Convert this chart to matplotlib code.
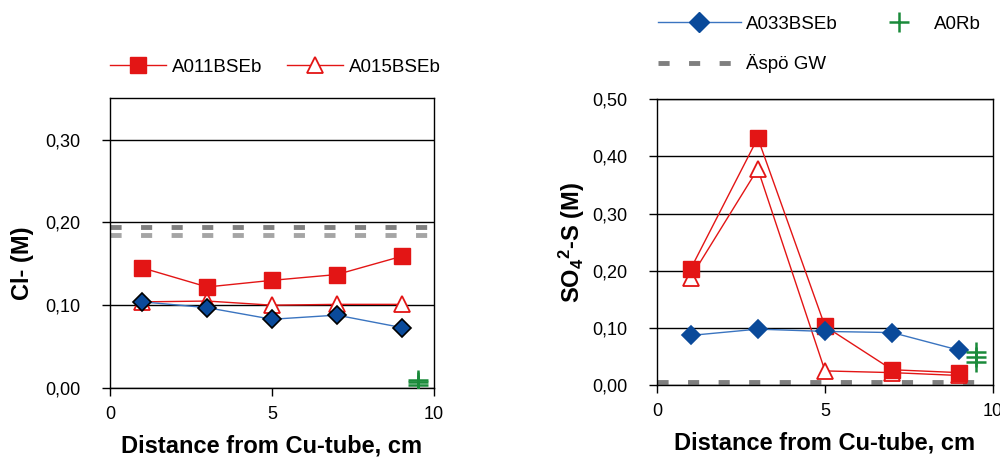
import numpy as np
import matplotlib
matplotlib.use('Agg')
import matplotlib.pyplot as plt
from matplotlib.ticker import FuncFormatter
from matplotlib.lines import Line2D

plt.rcParams['font.family'] = ['Liberation Sans', 'DejaVu Sans']
plt.rcParams['mathtext.fontset'] = 'custom'
plt.rcParams['mathtext.rm'] = 'Liberation Sans:bold'
plt.rcParams['mathtext.it'] = 'Liberation Sans:bold'
plt.rcParams['mathtext.bf'] = 'Liberation Sans:bold'
plt.rcParams['lines.scale_dashes'] = False

dist = [1, 3, 5, 7, 9]
ref_x = [9.5, 9.5, 9.5]

# Cl- (M)
cl_a011 = [0.145, 0.122, 0.130, 0.137, 0.159]
cl_a015 = [0.104, 0.105, 0.100, 0.101, 0.101]
cl_a033 = [0.104, 0.097, 0.083, 0.088, 0.073]
cl_a0rb = [0.004, 0.007, 0.010]
cl_aspo = [0.195, 0.185]

# SO4 2- -S (M)
so_a011 = [0.203, 0.432, 0.103, 0.027, 0.022]
so_a015 = [0.188, 0.378, 0.025, 0.022, 0.017]
so_a033 = [0.087, 0.098, 0.094, 0.092, 0.061]
so_a0rb = [0.040, 0.049, 0.058]
so_aspo = [0.005]

red = '#e31515'
blue = '#0a4a9a'
blue_line = '#3a74c0'
green = '#1a8a3a'
grey1 = '#7f7f7f'
grey2 = '#a5a5a5'

fig = plt.figure(figsize=(10, 4.63), dpi=100)
ax1 = fig.add_axes([0.11, 0.162, 0.324, 0.626])
ax2 = fig.add_axes([0.657, 0.168, 0.336, 0.618])

comma = FuncFormatter(lambda v, p: f'{v:.2f}'.replace('.', ','))


def draw(ax, a011, a015, a033, a0rb, aspo, ylim, yticks, edge):
    for i, val in enumerate(aspo):
        ax.plot([0, 10], [val, val], color=grey1 if i == 0 else grey2,
                lw=3.5, dashes=(8, 14), solid_capstyle='butt',
                dash_capstyle='butt', zorder=2)
    ax.plot(dist, a033, color=blue_line, lw=1, marker='D', ms=9.5,
            mfc=blue, mec=edge, mew=1.2, zorder=4)
    ax.plot(dist, a015, color=red, lw=1, marker='^', ms=11,
            mfc='white', mec=red, mew=1.3, zorder=3)
    ax.plot(dist, a011, color=red, lw=1, marker='s', ms=11,
            mfc=red, mec=red, zorder=3)
    ax.plot(ref_x, a0rb, ls='none', marker='+', ms=14, mew=1.8,
            color=green, zorder=5)
    ax.set_xlim(0, 10)
    ax.set_ylim(*ylim)
    ax.set_xticks([0, 5, 10])
    ax.set_yticks(yticks)
    ax.yaxis.set_major_formatter(comma)
    ax.yaxis.grid(True, color='black', lw=1)
    ax.set_axisbelow(True)
    ax.tick_params(labelsize=13, length=6, width=1, direction='out')
    ax.tick_params(axis='x', pad=7)
    ax.tick_params(axis='y', pad=15)
    for s in ax.spines.values():
        s.set_linewidth(1)
    ax.set_xlabel('Distance from Cu-tube, cm', fontsize=17,
                  fontweight='bold', labelpad=8)


draw(ax1, cl_a011, cl_a015, cl_a033, cl_a0rb, cl_aspo,
     (0, 0.35), [0, 0.1, 0.2, 0.3], 'black')
draw(ax2, so_a011, so_a015, so_a033, so_a0rb, so_aspo,
     (0, 0.5), [0, 0.1, 0.2, 0.3, 0.4, 0.5], blue)

ax1.set_ylabel('Cl- (M)', fontsize=17, fontweight='bold')
ax1.yaxis.set_label_coords(-0.235, 0.43)
ax2.set_ylabel(r'SO$_4$$^2$-S (M)', fontsize=17, fontweight='bold', labelpad=4)

h011 = Line2D([], [], color=red, lw=1, marker='s', ms=11, mfc=red, mec=red)
h015 = Line2D([], [], color=red, lw=1, marker='^', ms=11, mfc='white',
              mec=red, mew=1.3)
h033 = Line2D([], [], color=blue_line, lw=1, marker='D', ms=10, mfc=blue,
              mec=blue)
h0rb = Line2D([], [], ls='none', marker='+', ms=14, mew=1.8, color=green)
haspo = Line2D([], [], color=grey1, lw=3.5, dashes=(8, 14),
               dash_capstyle='butt')

leg_kw = dict(frameon=False, loc='center left', fontsize=13.5,
              borderpad=0, borderaxespad=0)
fig.legend([h011, h015], ['A011BSEb', 'A015BSEb'], ncol=2,
           bbox_to_anchor=(0.110, 0.855), handlelength=3,
           columnspacing=1.3, handletextpad=0.3, **leg_kw)
fig.legend([h033], ['A033BSEb'], bbox_to_anchor=(0.658, 0.948),
           handlelength=4.4, handletextpad=0.3, **leg_kw)
fig.legend([haspo], ['Äspö GW'], bbox_to_anchor=(0.658, 0.862),
           handlelength=4.4, handletextpad=0.3, **leg_kw)
fig.legend([h0rb], ['A0Rb'], bbox_to_anchor=(0.880, 0.948),
           handlelength=2, handletextpad=0.9, **leg_kw)

fig.savefig('out.png', dpi=100)
